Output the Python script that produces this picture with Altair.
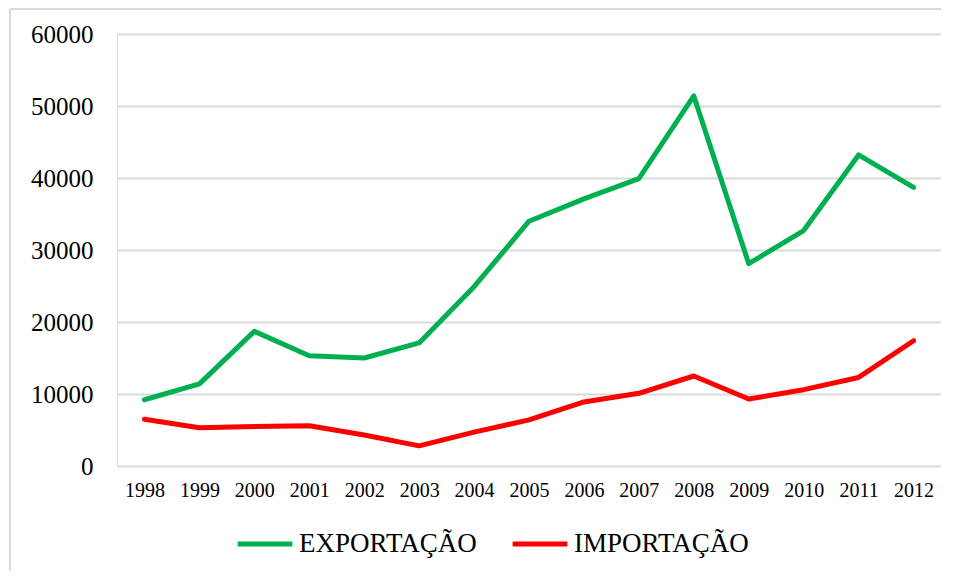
import altair as alt
import pandas as pd

years = ["1998", "1999", "2000", "2001", "2002", "2003", "2004", "2005",
         "2006", "2007", "2008", "2009", "2010", "2011", "2012"]
exportacao = [9200, 11400, 18700, 15300, 15000, 17100, 24900, 34000,
              37100, 39900, 51400, 28100, 32700, 43200, 38700]
importacao = [6500, 5300, 5500, 5600, 4300, 2800, 4700, 6400,
              8900, 10100, 12500, 9300, 10600, 12300, 17400]
series_names = ["EXPORTAÇÃO", "IMPORTAÇÃO"]
series_colors = ["#00b050", "#ff0000"]

rows = []
for y, v in zip(years, exportacao):
    rows.append({"ano": y, "valor": v, "serie": series_names[0]})
for y, v in zip(years, importacao):
    rows.append({"ano": y, "valor": v, "serie": series_names[1]})
df = pd.DataFrame(rows)

FONT = "Times New Roman, Liberation Serif, serif"
W, H = 824, 432

lines = alt.Chart(df).mark_line(strokeWidth=5, strokeCap="round", strokeJoin="round").encode(
    x=alt.X("ano:O", sort=years, title=None,
            scale=alt.Scale(type="point", padding=0.5),
            axis=alt.Axis(labelAngle=0, labelFont=FONT, labelFontSize=20, labelColor="#000000",
                          labelPadding=14, ticks=False, domain=False, grid=False)),
    y=alt.Y("valor:Q", title=None,
            scale=alt.Scale(domain=[0, 60000]),
            axis=alt.Axis(values=[0, 10000, 20000, 30000, 40000, 50000, 60000], format="d",
                          labelFont=FONT, labelFontSize=25, labelColor="#000000",
                          labelPadding=24, ticks=False, domain=False,
                          grid=True, gridColor="#d9d9d9", gridWidth=2)),
    color=alt.Color("serie:N", sort=series_names,
                    scale=alt.Scale(domain=series_names, range=series_colors),
                    legend=alt.Legend(title=None, orient="none", direction="horizontal",
                                      legendX=118, legendY=480,
                                      symbolType="stroke", symbolSize=3000,
                                      symbolStrokeWidth=5, labelLimit=0,
                                      labelFont=FONT, labelFontSize=27, labelColor="#000000",
                                      labelOffset=4, columnPadding=25, padding=0)),
)

frame = pd.DataFrame({"a": [0]})
left_edge = alt.Chart(frame).mark_rule(color="#d9d9d9", strokeWidth=2, clip=False).encode(
    x=alt.value(-107), y=alt.value(-25), y2=alt.value(H + 106),
)
top_edge = alt.Chart(frame).mark_rule(color="#d9d9d9", strokeWidth=2, clip=False).encode(
    x=alt.value(-107), x2=alt.value(W + 30), y=alt.value(-25),
)

chart = alt.layer(left_edge, top_edge, lines).properties(
    width=W, height=H,
    padding={"left": 109, "top": 26, "right": 0, "bottom": 105},
    autosize=alt.AutoSizeParams(type="none"),
).configure_view(stroke=None).configure(background="#ffffff")

chart.save("out.html", embed_options={"renderer": "svg", "actions": False})
